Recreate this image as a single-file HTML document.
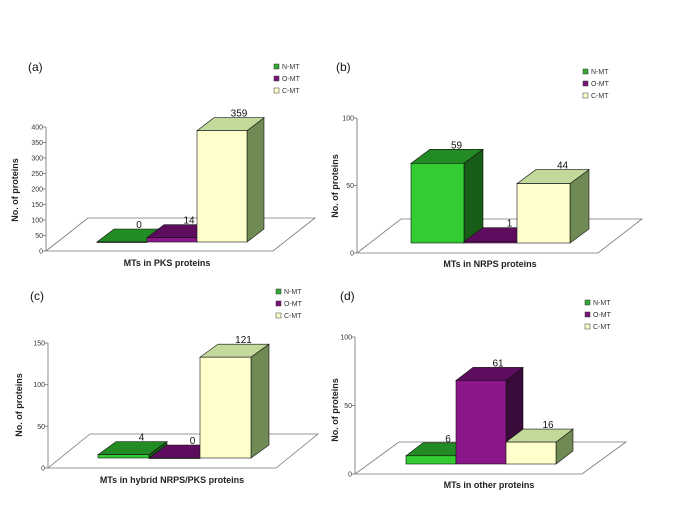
<!DOCTYPE html>
<html><head><meta charset="utf-8"><style>
body{margin:0;background:#fff}
svg{display:block;font-family:"Liberation Sans",Arial,sans-serif}
</style></head><body>
<svg id="chart" width="685" height="523" viewBox="0 0 685 523" xmlns="http://www.w3.org/2000/svg"></svg>
<script>
const seriesNames = ["N-MT","O-MT","C-MT"];
const valuesA = [0,14,359];
const valuesB = [59,1,44];
const valuesC = [4,0,121];
const valuesD = [6,61,16];
const ticksA = [0,50,100,150,200,250,300,350,400];
const ticksB = [0,50,100];
const ticksC = [0,50,100,150];
const ticksD = [0,50,100];
const titles = ["(a)","(b)","(c)","(d)"];
const xTitles = ["MTs in PKS proteins","MTs in NRPS proteins","MTs in hybrid NRPS/PKS proteins","MTs in other proteins"];

const colors=[{front:"#33cc33",top:"#238b23",side:"#175c17"},{front:"#8b178b",top:"#5e0c5e",side:"#3a0a3a"},{front:"#ffffcc",top:"#c3d89b",side:"#6f8a52"}];
const legendFill=["#33aa33","#7a147a","#ffffcc"];
const panels=[
 {vals:valuesA,ticks:ticksA,max:400,ax:46,y0:251,y1:127,fx2:273,fo:[42,-33],base:242,bx:97,bw:50,d:[17,-13],lx:274,ly:67,tx:28,ty:71,ylx:18,yly:190,xlx:167,xly:266},
 {vals:valuesB,ticks:ticksB,max:100,ax:357,y0:253,y1:118,fx2:598,fo:[44,-34],base:243,bx:411,bw:53,d:[19,-14],lx:583,ly:72,tx:336,ty:71,ylx:338,yly:186,xlx:490,xly:267},
 {vals:valuesC,ticks:ticksC,max:150,ax:48,y0:468,y1:343,fx2:276,fo:[42,-34],base:458,bx:98,bw:51,d:[18,-13],lx:276,ly:292,tx:30,ty:300,ylx:22,yly:405,xlx:172,xly:483},
 {vals:valuesD,ticks:ticksD,max:100,ax:355,y0:474,y1:337,fx2:582,fo:[44,-32],base:464,bx:406,bw:50,d:[17,-13],lx:585,ly:303,tx:340,ty:300,ylx:338,yly:410,xlx:489,xly:488}
];
const NS="http://www.w3.org/2000/svg";
const svg=document.getElementById('chart');
function mk(tag,attrs,parent){const e=document.createElementNS(NS,tag);for(const k in attrs)e.setAttribute(k,attrs[k]);(parent||svg).appendChild(e);return e;}
function pts(a){return a.map(p=>p.join(',')).join(' ');}
panels.forEach((P,pi)=>{
 const g=mk('g',{});
 
 
 const yScale=v=>(P.y0-P.y1)*v/P.max;
 // floor
 const fl=mk('polygon',{points:pts([[P.ax,P.y0],[P.fx2,P.y0],[P.fx2+P.fo[0],P.y0+P.fo[1]],[P.ax+P.fo[0],P.y0+P.fo[1]]]),fill:"#fff",stroke:"#777","stroke-width":0.8},g);
 
 
 // axis
 const ax=mk('line',{x1:P.ax,y1:P.y0,x2:P.ax,y2:P.y1,stroke:"#888","stroke-width":1},g);
 
 
 P.ticks.forEach(t=>{
  const y=P.y0-yScale(t);
  mk('line',{x1:P.ax-3,y1:y,x2:P.ax,y2:y,stroke:"#888"},g);
  const tx=mk('text',{x:P.ax-3,y:y+2.5,"font-size":7,"text-anchor":"end",fill:"#333"},g);
  tx.textContent=t;
  
  
 });
 // bars
 P.vals.forEach((v,i)=>{
  const c=colors[i];const x=P.bx+i*P.bw, x2=x+P.bw;
  const h=Math.max(yScale(v),0); const yt=P.base-h;
  const [dx,dy]=P.d;
  const bg=mk('g',{},g);
  
  
  mk('polygon',{points:pts([[x2,P.base],[x2+dx,P.base+dy],[x2+dx,yt+dy],[x2,yt]]),fill:c.side,stroke:"#111","stroke-width":0.6},bg);
  mk('polygon',{points:pts([[x,yt],[x2,yt],[x2+dx,yt+dy],[x+dx,yt+dy]]),fill:c.top,stroke:"#111","stroke-width":0.6},bg);
  mk('rect',{x:x,y:yt,width:P.bw,height:Math.max(h,0.5),fill:c.front,stroke:"#111","stroke-width":0.6},bg);
  const lb=mk('text',{x:x+P.bw/2+dx,y:yt+dy-1,"font-size":10,"text-anchor":"middle",fill:"#111"},g);
  lb.textContent=v;
  
  
 });
 // legend
 seriesNames.forEach((n,i)=>{
  const lg=mk('g',{},g);
  
  
  mk('rect',{x:P.lx,y:P.ly+i*12-3,width:5,height:5,fill:legendFill[i],stroke:"#333","stroke-width":0.5},lg);
  const t=mk('text',{x:P.lx+8,y:P.ly+i*12+2,"font-size":7,fill:"#333"},lg);t.textContent=n;
 });
 const tt=mk('text',{x:P.tx,y:P.ty,"font-size":12,fill:"#111"},g);tt.textContent=titles[pi];
 
 
 const yl=mk('text',{x:P.ylx,y:P.yly,"font-size":9,"font-weight":"bold","text-anchor":"middle",fill:"#222",transform:`rotate(-90 ${P.ylx} ${P.yly})`},g);
 yl.textContent="No. of proteins";
 
 
 const xl=mk('text',{x:P.xlx,y:P.xly,"font-size":9,"font-weight":"bold","text-anchor":"middle",fill:"#222"},g);
 xl.textContent=xTitles[pi];
 
 
});
</script>
</body></html>
